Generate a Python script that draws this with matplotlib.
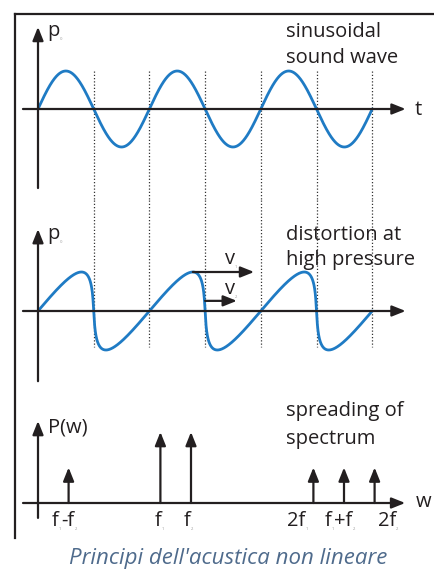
import numpy as np
import matplotlib.pyplot as plt
from matplotlib.lines import Line2D

plt.rcParams['font.family'] = ['Open Sans', 'DejaVu Sans']

W, H = 434, 572
ink = "#231f20"
wave_blue = "#1f7bc4"

# ---- data ----
n_half = 6                      # half periods drawn in the two wave panels
distortion = 0.88               # steepening of the high pressure wave
spike_pos = [1, 4, 5, 9, 10, 11]
spike_amp = [1, 2, 2, 1, 1, 1]
spike_labels = [[("f", "1"), ("-f", "2")], [("f", "1")], [("f", "2")],
                [("2f", "1")], [("f", "1"), ("+f", "2")], [("2f", "2")]]
label_left = [0.46, 3.82, 4.77, 8.14, 9.38, 11.11]


def fig_xy(x, y):
    return x / W, 1 - y / H


def make_axes(top, bottom, x0, xunit, y0, yunit):
    ax = fig.add_axes([15 / W, 1 - bottom / H, (W - 15) / W, (bottom - top) / H])
    ax.set_xlim((15 - x0) / xunit, (W - x0) / xunit)
    ax.set_ylim((y0 - bottom) / yunit, (y0 - top) / yunit)
    ax.axis("off")
    return ax


def arrow(ax, x0, y0, x1, y1, lw=1.6):
    ax.annotate("", xy=(x1, y1), xytext=(x0, y0),
                arrowprops=dict(arrowstyle="-|>,head_length=0.45,head_width=0.18",
                                lw=lw, color=ink, shrinkA=0, shrinkB=0,
                                mutation_scale=18))


def sub_text(x, y, pieces, size=14.5):
    # main letters with tiny subscripts, as in the source figure
    fx, fy = fig_xy(x, y)
    main = fig.text(fx, fy, pieces[0][0], fontsize=size, color=ink, va="bottom")
    prev_main = main
    sub = fig.text(0, 0, "")
    for i, (txt, s) in enumerate(pieces):
        if i > 0:
            main = ax_all.annotate(txt, xy=(1, 0), xycoords=(sub, prev_main),
                                   fontsize=size, color=ink, va="bottom")
            prev_main = main
        sub = ax_all.annotate(s, xy=(1, 0), xycoords=main, fontsize=3,
                              color="#999999", va="bottom")


fig = plt.figure(figsize=(W / 100, H / 100), dpi=100)
ax_all = fig.add_axes([0, 0, 1, 1])
ax_all.axis("off")

# frame
fig.add_artist(Line2D([15 / W, 15 / W], [1 - 14 / H, 1 - 538 / H], color=ink, lw=1.6))
fig.add_artist(Line2D([15 / W, 1], [1 - 14 / H, 1 - 14 / H], color=ink, lw=1.6))

# ---- panel 1: sinusoid ----
ax1 = make_axes(14, 200, 38, 55.7, 109, 38)
t = np.linspace(0, n_half, 1200)
for k in range(1, n_half + 1):
    ax1.plot([k, k], [1, ax1.get_ylim()[0]], color="#333333", lw=0.9,
             ls=(0, (1, 1.6)))
ax1.plot(t, np.sin(np.pi * t), color=wave_blue, lw=2.0, solid_capstyle="round")
arrow(ax1, -0.27, 0, 6.6, 0)
arrow(ax1, 0, -2.08, 0, 2.16)

# ---- panel 2: distorted wave ----
ax2 = make_axes(200, 395, 38, 55.7, 311, 39)
phi = np.linspace(0, n_half * np.pi, 3000)
td = (phi + distortion * np.sin(phi)) / np.pi
for k in range(1, n_half + 1):
    ax2.plot([k, k], [ax2.get_ylim()[1], -0.92], color="#333333", lw=0.9,
             ls=(0, (1, 1.6)))
ax2.plot(td, np.sin(phi), color=wave_blue, lw=2.0, solid_capstyle="round")
arrow(ax2, -0.27, 0, 6.6, 0)
arrow(ax2, 0, -1.8, 0, 2.1)
peak_t = 2.5 + distortion / np.pi
arrow(ax2, peak_t, 1.0, peak_t + 1.1, 1.0)
arrow(ax2, 3.0, 0.26, 3.57, 0.26)

# ---- panel 3: spectrum ----
ax3 = make_axes(395, 540, 38, 30.6, 503, 35.5)
arrow(ax3, -0.49, 0, 12.0, 0)
arrow(ax3, 0, -0.42, 0, 2.31)
for xp, amp in zip(spike_pos, spike_amp):
    arrow(ax3, xp, 0, xp, amp)

# ---- text ----
txt = dict(fontsize=14.5, color=ink, va="baseline")
for x, y, s in [(286, 37, "sinusoidal"), (286, 63, "sound wave"),
                (286, 240, "distortion at"), (286, 265, "high pressure"),
                (286, 416, "spreading of"), (286, 444, "spectrum")]:
    fig.text(*fig_xy(x, y), s, **txt)
fig.text(*fig_xy(415, 115), "t", **txt)
fig.text(*fig_xy(416, 507), "w", **txt)
fig.text(*fig_xy(48, 432), "P(w)", **txt)

sub_text(47, 41, [("p", "0")])
sub_text(47, 244, [("p", "0")])
sub_text(225, 269, [("v", "1")])
sub_text(225, 299, [("v", "2")])
for pieces, lx in zip(spike_labels, label_left):
    sub_text(38 + lx * 30.6, 531, pieces)

fig.text(*fig_xy(228, 564), "Principi dell'acustica non lineare",
         ha="center", va="baseline", fontsize=16, style="italic",
         color="#4f6b8c")

fig.savefig("out.png", dpi=100)
